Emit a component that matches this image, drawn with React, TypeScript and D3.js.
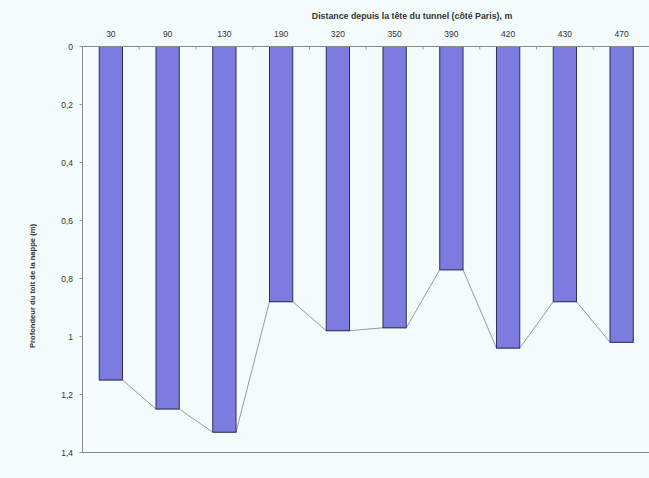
import React from "react";
import * as d3 from "d3";

const categories = ["30", "90", "130", "190", "320", "350", "390", "420", "430", "470"];
const depths = [1.15, 1.25, 1.33, 0.88, 0.98, 0.97, 0.77, 1.04, 0.88, 1.02];
const yTicks = [0, 0.2, 0.4, 0.6, 0.8, 1, 1.2, 1.4];
const xTitle = "Distance depuis la tête du tunnel (côté Paris), m";
const yTitle = "Profondeur du toit de la nappe (m)";

const W = 649, H = 478;
const left = 82.5, right = 650, top = 46.5, bottom = 452.5;

export default function App() {
  const x = d3.scaleBand<string>().domain(categories).range([left, right]).paddingInner(0.59).paddingOuter(0.295);
  const y = d3.scaleLinear().domain([0, 1.4]).range([top, bottom]);
  const bw = x.bandwidth();
  const step = x.step();
  const pts: [number, number][] = [];
  categories.forEach((c, i) => {
    const x0 = x(c)!;
    pts.push([x0, y(depths[i])]);
    pts.push([x0 + bw, y(depths[i])]);
  });
  const line = d3.line();
  const fmt = (v: number) => String(v).replace(".", ",");
  const font = "Liberation Sans, Arial, sans-serif";
  return (
    <svg width={W} height={H} style={{ position: "absolute", left: 0, top: 0, background: "#f3fbfb" }}>
      <rect x={0} y={0} width={W} height={H} fill="#f3fbfb" />
      <text x={412} y={19} textAnchor="middle" fontFamily={font} fontSize={8.8} fontWeight="bold" fill="#333">{xTitle}</text>
      {categories.map((c) => (
        <text key={c} x={x(c)! + bw / 2} y={37} textAnchor="middle" fontFamily={font} fontSize={8.5} fill="#333">{c}</text>
      ))}
      {categories.slice(1).map((c) => (
        <line key={"t" + c} x1={x(c)! - (step - bw) / 2} x2={x(c)! - (step - bw) / 2} y1={top} y2={top + 3} stroke="#999" />
      ))}
      {yTicks.map((t) => (
        <g key={t}>
          <line x1={left - 3} x2={left} y1={y(t)} y2={y(t)} stroke="#999" />
          <text x={73} y={y(t) + 3} textAnchor="end" fontFamily={font} fontSize={8.5} fill="#333">{fmt(t)}</text>
        </g>
      ))}
      <text transform={`translate(35,286) rotate(-90)`} textAnchor="middle" fontFamily={font} fontSize={7.6} fontWeight="bold" fill="#333">{yTitle}</text>
      <path d={line(pts) || ""} fill="none" stroke="#9a9a9a" strokeWidth={1} />
      {categories.map((c, i) => (
        <rect key={"b" + c} x={x(c)!} y={y(0)} width={bw} height={y(depths[i]) - y(0)} fill="#7b7be0" stroke="#2e2e5a" strokeWidth={1} />
      ))}
      <line x1={left} x2={right} y1={top} y2={top} stroke="#8a8a8a" />
      <line x1={left} x2={right} y1={bottom} y2={bottom} stroke="#8a8a8a" strokeWidth={1.2} />
      <line x1={left} x2={left} y1={top} y2={bottom} stroke="#8a8a8a" />
    </svg>
  );
}
